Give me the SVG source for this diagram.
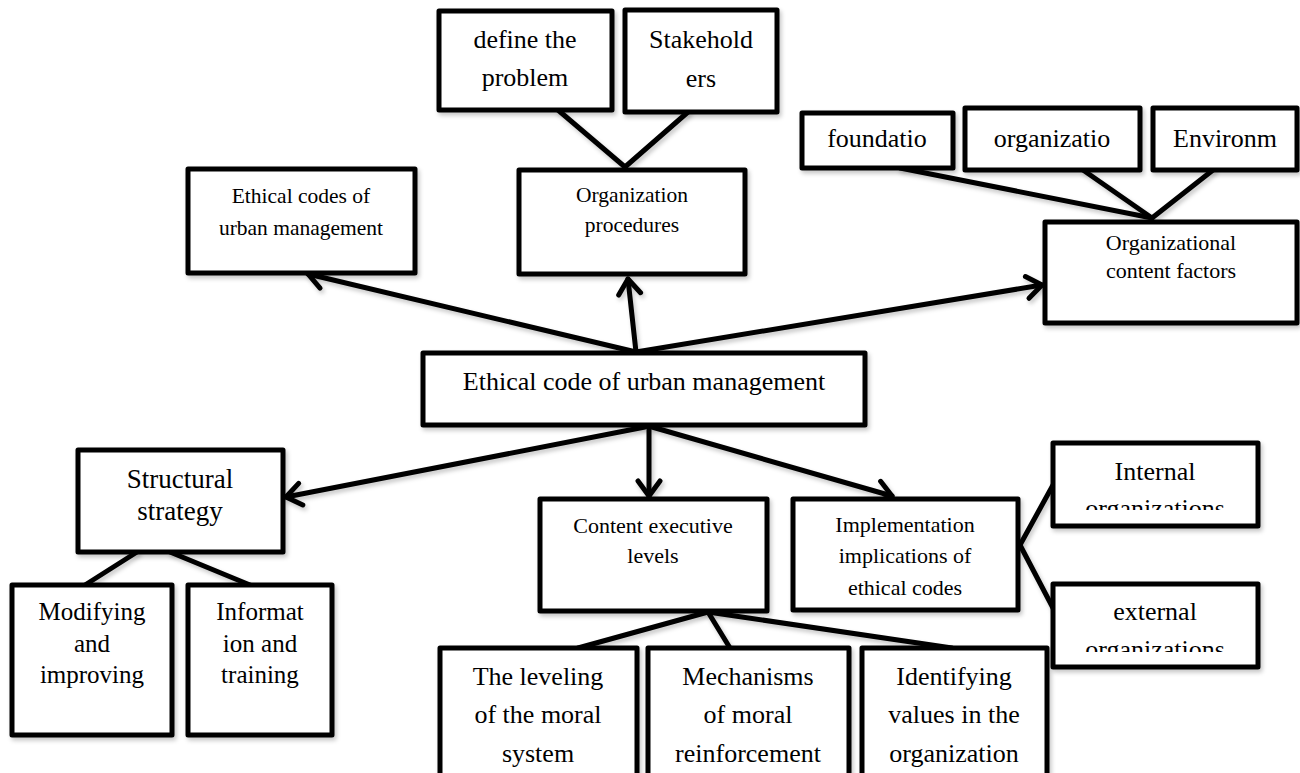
<svg xmlns="http://www.w3.org/2000/svg" width="1300" height="773" viewBox="0 0 1300 773">
<style>
  .box { fill: #fff; stroke: #000; stroke-width: 5; stroke-linejoin: round; }
  .t { font-family: "Liberation Serif", "Times New Roman", serif; fill: #000; text-anchor: middle; }
  .c { stroke: #000; stroke-width: 5; fill: none; stroke-linecap: round; }
  .a { marker-end: url(#arr); }
</style>
<defs>
  <marker id="arr" markerUnits="userSpaceOnUse" markerWidth="24" markerHeight="28" viewBox="0 0 24 28" refX="18" refY="14" orient="auto">
    <path d="M3,3 L18,14 L3,25" fill="none" stroke="#000" stroke-width="5" stroke-linecap="round" stroke-linejoin="round"/>
  </marker>
  <filter id="sh" x="-10%" y="-10%" width="130%" height="140%">
    <feDropShadow dx="2" dy="3" stdDeviation="2" flood-color="#000" flood-opacity="0.22"/>
  </filter>
  <clipPath id="clipInt"><rect x="1053" y="443" width="205" height="67"/></clipPath>
  <clipPath id="clipExt"><rect x="1053" y="584" width="205" height="68"/></clipPath>
</defs>
<rect x="0" y="0" width="1300" height="773" fill="#fff"/>

<g id="connectors" filter="url(#sh)">
  <line class="c a" x1="636" y1="352" x2="308" y2="274"/>
  <line class="c a" x1="636" y1="352" x2="628" y2="279"/>
  <line class="c a" x1="636" y1="352" x2="1042" y2="285"/>
  <line class="c a" x1="645" y1="427" x2="286" y2="497"/>
  <line class="c a" x1="649" y1="427" x2="649" y2="496"/>
  <line class="c a" x1="652" y1="427" x2="892" y2="496"/>
  <line class="c" x1="558" y1="110" x2="625" y2="167"/>
  <line class="c" x1="688" y1="112" x2="625" y2="167"/>
  <line class="c" x1="900" y1="168" x2="1152" y2="218"/>
  <line class="c" x1="1083" y1="170" x2="1152" y2="218"/>
  <line class="c" x1="1213" y1="170" x2="1152" y2="218"/>
  <line class="c" x1="137" y1="552" x2="85" y2="585"/>
  <line class="c" x1="170" y1="552" x2="250" y2="585"/>
  <line class="c" x1="708" y1="612" x2="578" y2="648"/>
  <line class="c" x1="708" y1="612" x2="730" y2="648"/>
  <line class="c" x1="708" y1="612" x2="952" y2="648"/>
  <line class="c" x1="1020" y1="545" x2="1053" y2="485"/>
  <line class="c" x1="1020" y1="545" x2="1053" y2="608"/>
</g>

<g id="n-define">
  <rect class="box" x="439" y="11" width="173" height="99" filter="url(#sh)"/>
  <text class="t" font-size="26" x="525" y="48">define the</text>
  <text class="t" font-size="26" x="525" y="86">problem</text>
</g>
<g id="n-stakeholders">
  <rect class="box" x="625" y="10" width="152" height="102" filter="url(#sh)"/>
  <text class="t" font-size="26" x="701" y="48">Stakehold</text>
  <text class="t" font-size="26" x="701" y="87">ers</text>
</g>
<g id="n-ethical-codes">
  <rect class="box" x="188" y="169" width="227" height="104" filter="url(#sh)"/>
  <text class="t" font-size="21.5" x="301" y="203">Ethical codes of</text>
  <text class="t" font-size="21.5" x="301" y="235">urban management</text>
</g>
<g id="n-org-procedures">
  <rect class="box" x="519" y="170" width="226" height="104" filter="url(#sh)"/>
  <text class="t" font-size="21.5" x="632" y="202">Organization</text>
  <text class="t" font-size="21.5" x="632" y="232">procedures</text>
</g>
<g id="n-foundation">
  <rect class="box" x="802" y="113" width="151" height="55" filter="url(#sh)"/>
  <text class="t" font-size="26" x="877" y="147">foundatio</text>
</g>
<g id="n-organization">
  <rect class="box" x="965" y="108" width="175" height="62" filter="url(#sh)"/>
  <text class="t" font-size="26" x="1052" y="147">organizatio</text>
</g>
<g id="n-environment">
  <rect class="box" x="1153" y="108" width="144" height="62" filter="url(#sh)"/>
  <text class="t" font-size="26" x="1225" y="147">Environm</text>
</g>
<g id="n-org-content">
  <rect class="box" x="1045" y="222" width="252" height="101" filter="url(#sh)"/>
  <text class="t" font-size="22" x="1171" y="250">Organizational</text>
  <text class="t" font-size="22" x="1171" y="278">content factors</text>
</g>
<g id="n-central">
  <rect class="box" x="423" y="353" width="442" height="72" filter="url(#sh)"/>
  <text class="t" font-size="26" x="644" y="390">Ethical code of urban management</text>
</g>
<g id="n-structural">
  <rect class="box" x="78" y="450" width="205" height="102" filter="url(#sh)"/>
  <text class="t" font-size="27" x="180" y="488">Structural</text>
  <text class="t" font-size="27" x="180" y="520">strategy</text>
</g>
<g id="n-modifying">
  <rect class="box" x="12" y="585" width="160" height="150" filter="url(#sh)"/>
  <text class="t" font-size="25" x="92" y="620">Modifying</text>
  <text class="t" font-size="25" x="92" y="652">and</text>
  <text class="t" font-size="25" x="92" y="683">improving</text>
</g>
<g id="n-information">
  <rect class="box" x="188" y="585" width="144" height="150" filter="url(#sh)"/>
  <text class="t" font-size="25" x="260" y="620">Informat</text>
  <text class="t" font-size="25" x="260" y="652">ion and</text>
  <text class="t" font-size="25" x="260" y="683">training</text>
</g>
<g id="n-content-exec">
  <rect class="box" x="540" y="499" width="227" height="112" filter="url(#sh)"/>
  <text class="t" font-size="22" x="653" y="533">Content executive</text>
  <text class="t" font-size="22" x="653" y="563">levels</text>
</g>
<g id="n-implementation">
  <rect class="box" x="793" y="499" width="225" height="111" filter="url(#sh)"/>
  <text class="t" font-size="22" x="905" y="532">Implementation</text>
  <text class="t" font-size="22" x="905" y="563">implications of</text>
  <text class="t" font-size="22" x="905" y="595">ethical codes</text>
</g>
<g id="n-internal">
  <rect class="box" x="1053" y="443" width="205" height="83" filter="url(#sh)"/>
  <text class="t" font-size="26" x="1155" y="480">Internal</text>
  <text class="t" font-size="26" x="1155" y="517" clip-path="url(#clipInt)">organizations</text>
</g>
<g id="n-external">
  <rect class="box" x="1053" y="584" width="205" height="83" filter="url(#sh)"/>
  <text class="t" font-size="26" x="1155" y="620">external</text>
  <text class="t" font-size="26" x="1155" y="658" clip-path="url(#clipExt)">organizations</text>
</g>
<g id="n-leveling">
  <rect class="box" x="440" y="648" width="197" height="160" filter="url(#sh)"/>
  <text class="t" font-size="26" x="538" y="685">The leveling</text>
  <text class="t" font-size="26" x="538" y="723">of the moral</text>
  <text class="t" font-size="26" x="538" y="762">system</text>
</g>
<g id="n-mechanisms">
  <rect class="box" x="648" y="648" width="201" height="160" filter="url(#sh)"/>
  <text class="t" font-size="26" x="748" y="685">Mechanisms</text>
  <text class="t" font-size="26" x="748" y="723">of moral</text>
  <text class="t" font-size="26" x="748" y="762">reinforcement</text>
</g>
<g id="n-identifying">
  <rect class="box" x="862" y="648" width="185" height="160" filter="url(#sh)"/>
  <text class="t" font-size="26" x="954" y="685">Identifying</text>
  <text class="t" font-size="26" x="954" y="723">values in the</text>
  <text class="t" font-size="26" x="954" y="762">organization</text>
</g>
</svg>
